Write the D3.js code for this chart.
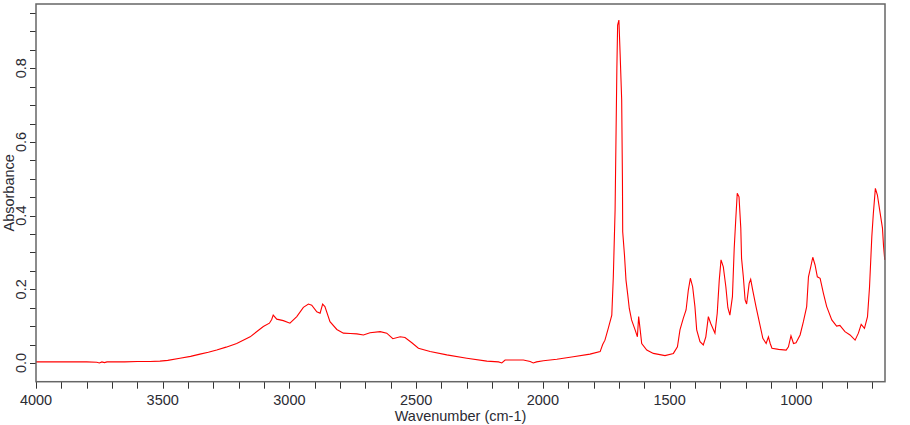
<!DOCTYPE html>
<html>
<head>
<meta charset="utf-8">
<script src="https://cdn.jsdelivr.net/npm/d3@7"></script>
<style>
  body { margin: 0; background: #fff; }
  text { font-family: "Liberation Sans", Arial, sans-serif; fill: #2b2b33; }
</style>
</head>
<body>
<div id="chart"></div>
<script>
// IR spectrum, absorbance vs wavenumber
const wavenumbers = [
  4000, 3950, 3900, 3850, 3800, 3760, 3750, 3740, 3730, 3720, 3700, 3650, 3600, 3550,
  3511, 3480, 3432, 3390, 3353, 3320, 3287, 3250, 3208, 3155, 3103, 3079, 3070, 3064,
  3050, 3024, 2998, 2971, 2945, 2925, 2912, 2892, 2879, 2869, 2860, 2840, 2813, 2787,
  2760, 2734, 2708, 2682, 2642, 2616, 2592, 2563, 2544, 2517, 2491, 2445, 2379, 2300,
  2221, 2175, 2162, 2149, 2077, 2050, 2038, 2025, 1998, 1945, 1880, 1814, 1774, 1764,
  1755, 1742, 1728, 1722, 1715, 1708, 1705, 1700, 1695, 1689, 1686, 1685, 1678, 1672,
  1665, 1659, 1650, 1636, 1627, 1622, 1616, 1610, 1590, 1564, 1518, 1485, 1469, 1459,
  1446, 1435, 1426, 1418, 1409, 1400, 1393, 1380, 1367, 1357, 1347, 1338, 1321, 1312,
  1304, 1297, 1288, 1278, 1270, 1262, 1252, 1245, 1239, 1233, 1226, 1219, 1216, 1209,
  1202, 1196, 1186, 1180, 1172, 1159, 1145, 1132, 1119, 1110, 1103, 1096, 1070, 1040,
  1031, 1021, 1011, 1001, 985, 972, 959, 952, 943, 935, 926, 917, 906, 893,
  880, 860, 841, 828, 808, 788, 768, 755, 744, 731, 719, 711, 702, 696,
  688, 680, 669, 660, 656, 651
];
const absorbance = [
  0.003, 0.003, 0.003, 0.003, 0.003, 0.002, 0.000, 0.003, 0.001, 0.003, 0.003, 0.003, 0.004, 0.004,
  0.005, 0.007, 0.013, 0.018, 0.024, 0.029, 0.035, 0.043, 0.053, 0.071, 0.099, 0.108, 0.118, 0.130,
  0.119, 0.115, 0.108, 0.126, 0.151, 0.160, 0.157, 0.139, 0.135, 0.160, 0.153, 0.112, 0.091, 0.081,
  0.080, 0.079, 0.076, 0.082, 0.085, 0.081, 0.066, 0.071, 0.069, 0.055, 0.040, 0.031, 0.022, 0.013,
  0.005, 0.003, 0.000, 0.008, 0.008, 0.004, 0.000, 0.003, 0.006, 0.010, 0.017, 0.024, 0.031, 0.050,
  0.062, 0.094, 0.130, 0.234, 0.415, 0.800, 0.917, 0.931, 0.836, 0.714, 0.497, 0.356, 0.293, 0.225,
  0.185, 0.148, 0.117, 0.090, 0.071, 0.126, 0.090, 0.053, 0.035, 0.026, 0.020, 0.026, 0.044, 0.090,
  0.121, 0.144, 0.198, 0.230, 0.207, 0.153, 0.090, 0.058, 0.049, 0.071, 0.126, 0.108, 0.081, 0.135,
  0.225, 0.280, 0.261, 0.207, 0.150, 0.130, 0.180, 0.311, 0.388, 0.461, 0.451, 0.366, 0.284, 0.234,
  0.171, 0.160, 0.216, 0.227, 0.198, 0.153, 0.108, 0.067, 0.053, 0.071, 0.053, 0.040, 0.037, 0.035,
  0.044, 0.074, 0.053, 0.055, 0.076, 0.112, 0.153, 0.234, 0.261, 0.287, 0.266, 0.234, 0.230, 0.189,
  0.153, 0.117, 0.100, 0.102, 0.085, 0.076, 0.062, 0.081, 0.105, 0.094, 0.126, 0.207, 0.343, 0.406,
  0.474, 0.456, 0.406, 0.366, 0.320, 0.280
];
const xTickLabels = [4000, 3500, 3000, 2500, 2000, 1500, 1000];
const yTickLabels = [0.0, 0.2, 0.4, 0.6, 0.8];

////////////////////////////////////////////////////////////////////////////////
// Setup
const width = 910;
const height = 425;
const margin = { left: 36, top: 4, right: 25, bottom: 43.3 };
const innerW = width - margin.left - margin.right;
const innerH = height - margin.top - margin.bottom;

const svg = d3.select('#chart').append('svg')
  .attr('width', width)
  .attr('height', height);
const frame = svg.append('g')
  .attr('transform', `translate(${margin.left} ${margin.top})`);

const xScale = d3.scaleLinear()
  .domain([4000, 650])
  .range([0, innerW]);
const yScale = d3.scaleLinear()
  .domain([-0.0508, 0.9745])
  .range([innerH, 0]);

// Minor ticks every 100 cm-1 and every 0.05 absorbance
const xTicks = d3.range(4000, 649, -100);
const yTicks = d3.range(0, 0.96, 0.05);

frame.append('g')
  .selectAll('line')
  .data(xTicks)
  .join('line')
    .attr('stroke', '#333')
    .attr('x1', d => Math.round(xScale(d)) + 0.5)
    .attr('x2', d => Math.round(xScale(d)) + 0.5)
    .attr('y1', innerH)
    .attr('y2', innerH + 7);

frame.append('g')
  .selectAll('line')
  .data(yTicks)
  .join('line')
    .attr('stroke', '#333')
    .attr('x1', -6)
    .attr('x2', 0)
    .attr('y1', d => Math.round(yScale(d)) + 0.5)
    .attr('y2', d => Math.round(yScale(d)) + 0.5);

// Tick labels
frame.append('g')
  .selectAll('text')
  .data(xTickLabels)
  .join('text')
    .attr('text-anchor', 'middle')
    .attr('font-size', 14.5)
    .attr('x', d => xScale(d))
    .attr('y', innerH + 23)
    .text(d => d);

frame.append('g')
  .selectAll('text')
  .data(yTickLabels)
  .join('text')
    .attr('text-anchor', 'middle')
    .attr('font-size', 14.5)
    .attr('transform', d => `translate(-10 ${yScale(d)}) rotate(-90)`)
    .text(d => d.toFixed(1));

// Axis titles
frame.append('text')
  .attr('text-anchor', 'middle')
  .attr('font-size', 14.5)
  .attr('x', innerW / 2)
  .attr('y', innerH + 39)
  .text('Wavenumber (cm-1)');

frame.append('text')
  .attr('text-anchor', 'middle')
  .attr('font-size', 14.5)
  .attr('transform', `translate(${-margin.left + 14} ${innerH / 2}) rotate(-90)`)
  .text('Absorbance');

// Spectrum
const points = wavenumbers.map((w, i) => ({ w: w, a: absorbance[i] }));
const line = d3.line()
  .x(d => xScale(d.w))
  .y(d => yScale(d.a));

frame.append('path')
  .datum(points)
  .attr('fill', 'none')
  .attr('stroke', '#ff0000')
  .attr('stroke-width', 1.1)
  .attr('d', line);

// Plot border
frame.append('rect')
  .attr('x', 0)
  .attr('y', 0)
  .attr('width', innerW)
  .attr('height', innerH)
  .attr('fill', 'none')
  .attr('stroke', '#666')
  .attr('stroke-width', 1.5);
</script>
</body>
</html>
